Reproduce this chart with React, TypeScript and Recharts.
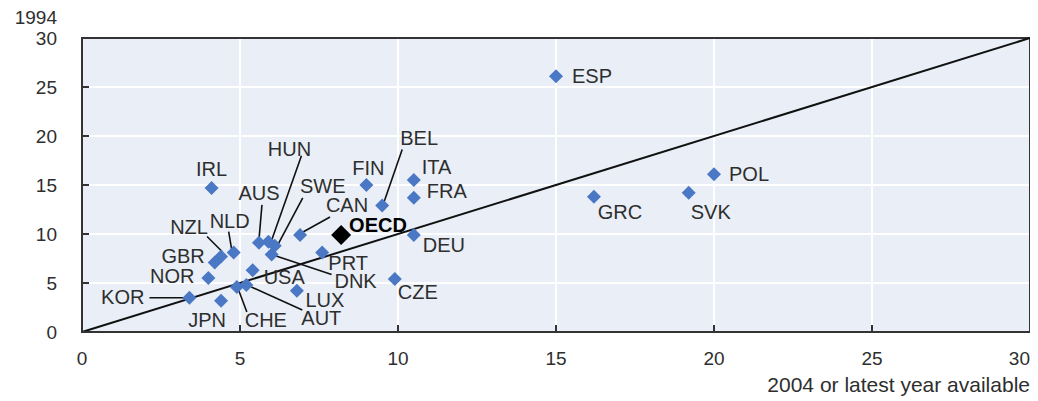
import {
  CartesianGrid,
  Label,
  ReferenceArea,
  ReferenceLine,
  Scatter,
  ScatterChart,
  XAxis,
  YAxis,
} from "recharts";

const countries = [
  "ESP", "POL", "SVK", "GRC", "IRL", "FIN", "ITA", "FRA", "BEL", "DEU",
  "CZE", "CAN", "PRT", "DNK", "HUN", "SWE", "AUS", "NZL", "NLD", "GBR",
  "NOR", "KOR", "JPN", "CHE", "AUT", "USA", "LUX",
];
const latestYear = [
  15.0, 20.0, 19.2, 16.2, 4.1, 9.0, 10.5, 10.5, 9.5, 10.5,
  9.9, 6.9, 7.6, 6.0, 5.9, 6.1, 5.6, 4.4, 4.8, 4.2,
  4.0, 3.4, 4.4, 4.9, 5.2, 5.4, 6.8,
];
const year1994 = [
  26.1, 16.1, 14.2, 13.8, 14.7, 15.0, 15.5, 13.7, 12.9, 9.9,
  5.4, 9.9, 8.1, 7.9, 9.2, 8.8, 9.1, 7.7, 8.1, 7.1,
  5.5, 3.5, 3.2, 4.6, 4.8, 6.3, 4.2,
];
const oecdLatest = 8.2;
const oecd1994 = 9.9;
const axisTicks = [0, 5, 10, 15, 20, 25, 30];

const points = countries.map((code, i) => ({
  code,
  x: latestYear[i],
  y: year1994[i],
}));
const oecdPoint = [{ code: "OECD", x: oecdLatest, y: oecd1994 }];

// label placement relative to each marker: [dx, dy, anchor, leader line]
type Place = {
  dx: number;
  dy: number;
  anchor?: "start" | "middle" | "end";
  line?: [number, number, number, number];
};
const place: Record<string, Place> = {
  ESP: { dx: 16, dy: 0, anchor: "start" },
  POL: { dx: 15, dy: 0, anchor: "start" },
  SVK: { dx: 22, dy: 19 },
  GRC: { dx: 26, dy: 15 },
  IRL: { dx: 0, dy: -19 },
  FIN: { dx: 2, dy: -17 },
  ITA: { dx: 8, dy: -13, anchor: "start" },
  FRA: { dx: 13, dy: -7, anchor: "start" },
  BEL: { dx: 37, dy: -68, line: [20, -56, 2, -4] },
  DEU: { dx: 9, dy: 10, anchor: "start" },
  CZE: { dx: 23, dy: 13 },
  OECD: { dx: 8, dy: -10, anchor: "start" },
  CAN: { dx: 47, dy: -30, line: [30, -18, 3, -3] },
  PRT: { dx: 26, dy: 10 },
  DNK: { dx: 84, dy: 26, line: [3, 1, 60, 20] },
  HUN: { dx: 21, dy: -93, line: [33, -86, 3, -1] },
  SWE: { dx: 48, dy: -60, line: [28, -48, 3, -1] },
  AUS: { dx: 0, dy: -50, line: [3, -38, 0, -3] },
  NZL: { dx: -32, dy: -30, line: [-14, -20, 1, -5] },
  NLD: { dx: -4, dy: -32, line: [-5, -21, -2, -3] },
  GBR: { dx: -10, dy: -6, anchor: "end" },
  NOR: { dx: -14, dy: -2, anchor: "end" },
  KOR: { dx: -45, dy: -1, anchor: "end", line: [-40, 0, -3, 0] },
  JPN: { dx: -14, dy: 19 },
  CHE: { dx: 29, dy: 33, line: [1, 1, 10, 25] },
  AUT: { dx: 75, dy: 33, line: [5, 2, 56, 25] },
  USA: { dx: 11, dy: 7, anchor: "start" },
  LUX: { dx: 28, dy: 9 },
};

const FONT = "'Liberation Sans', Arial, sans-serif";
const TEXT = "#2e2e2e";

function makeMarker(color: string, half: number, bold: boolean) {
  return (props: any) => {
    const { cx, cy, payload } = props;
    const p = place[payload.code] || { dx: 10, dy: 0 };
    return (
      <g>
        {p.line && (
          <line
            x1={cx + p.line[0]}
            y1={cy + p.line[1]}
            x2={cx + p.line[2]}
            y2={cy + p.line[3]}
            stroke="#111"
            strokeWidth={1.6}
          />
        )}
        <polygon
          points={`${cx},${cy - half} ${cx + half},${cy} ${cx},${cy + half} ${cx - half},${cy}`}
          fill={color}
        />
        <text
          x={cx + p.dx}
          y={cy + p.dy}
          textAnchor={p.anchor || "middle"}
          dominantBaseline="central"
          fontFamily={FONT}
          fontSize={20}
          fontWeight={bold ? 700 : 400}
          fill={bold ? "#000" : TEXT}
        >
          {payload.code}
        </text>
      </g>
    );
  };
}

const XTick = (props: any) => {
  const { x, y, payload } = props;
  const last = payload.value === 30;
  return (
    <text
      x={x}
      y={y}
      textAnchor={last ? "end" : "middle"}
      dominantBaseline="central"
      fontFamily={FONT}
      fontSize={19}
      fill={TEXT}
    >
      {payload.value}
    </text>
  );
};

const YTick = (props: any) => {
  const { x, y, payload } = props;
  return (
    <text
      x={x}
      y={y}
      textAnchor="end"
      dominantBaseline="central"
      fontFamily={FONT}
      fontSize={19}
      fill={TEXT}
    >
      {payload.value}
    </text>
  );
};

export default function App() {
  return (
    <ScatterChart
      width={1030}
      height={393}
      margin={{ top: 30, right: 8, left: 0, bottom: 0 }}
    >
      <CartesianGrid fill="#e9eef7" stroke="#ffffff" strokeWidth={2} />
      <XAxis
        type="number"
        dataKey="x"
        domain={[0, 30]}
        ticks={axisTicks}
        height={69}
        axisLine={false}
        tickSize={-7}
        tickMargin={33}
        tickLine={{ stroke: "#333", strokeWidth: 2 }}
        tick={<XTick />}
      >
        <Label
          content={(props: any) => {
            const vb = props.viewBox;
            return (
              <text
                x={vb.x + vb.width}
                y={vb.y + 52}
                textAnchor="end"
                dominantBaseline="central"
                fontFamily={FONT}
                fontSize={21}
                fill={TEXT}
              >
                2004 or latest year available
              </text>
            );
          }}
        />
      </XAxis>
      <YAxis
        type="number"
        dataKey="y"
        domain={[0, 30]}
        ticks={axisTicks}
        width={74}
        axisLine={false}
        tickSize={-7}
        tickMargin={32}
        tickLine={{ stroke: "#333", strokeWidth: 2 }}
        tick={<YTick />}
      >
        <Label
          content={(props: any) => {
            const vb = props.viewBox;
            return (
              <text
                x={vb.x + vb.width - 25}
                y={vb.y - 21}
                textAnchor="end"
                dominantBaseline="central"
                fontFamily={FONT}
                fontSize={19}
                fill={TEXT}
              >
                1994
              </text>
            );
          }}
        />
      </YAxis>
      <ReferenceArea
        x1={0}
        x2={30}
        y1={0}
        y2={30}
        fill="none"
        fillOpacity={0}
        stroke="#333"
        strokeWidth={2}
      />
      <ReferenceLine
        segment={[
          { x: 0, y: 0 },
          { x: 30, y: 30 },
        ]}
        stroke="#111"
        strokeWidth={2}
      />
      <Scatter
        data={points}
        shape={makeMarker("#4a78c4", 7, false)}
        isAnimationActive={false}
      />
      <Scatter
        data={oecdPoint}
        shape={makeMarker("#000000", 10, true)}
        isAnimationActive={false}
      />
    </ScatterChart>
  );
}
